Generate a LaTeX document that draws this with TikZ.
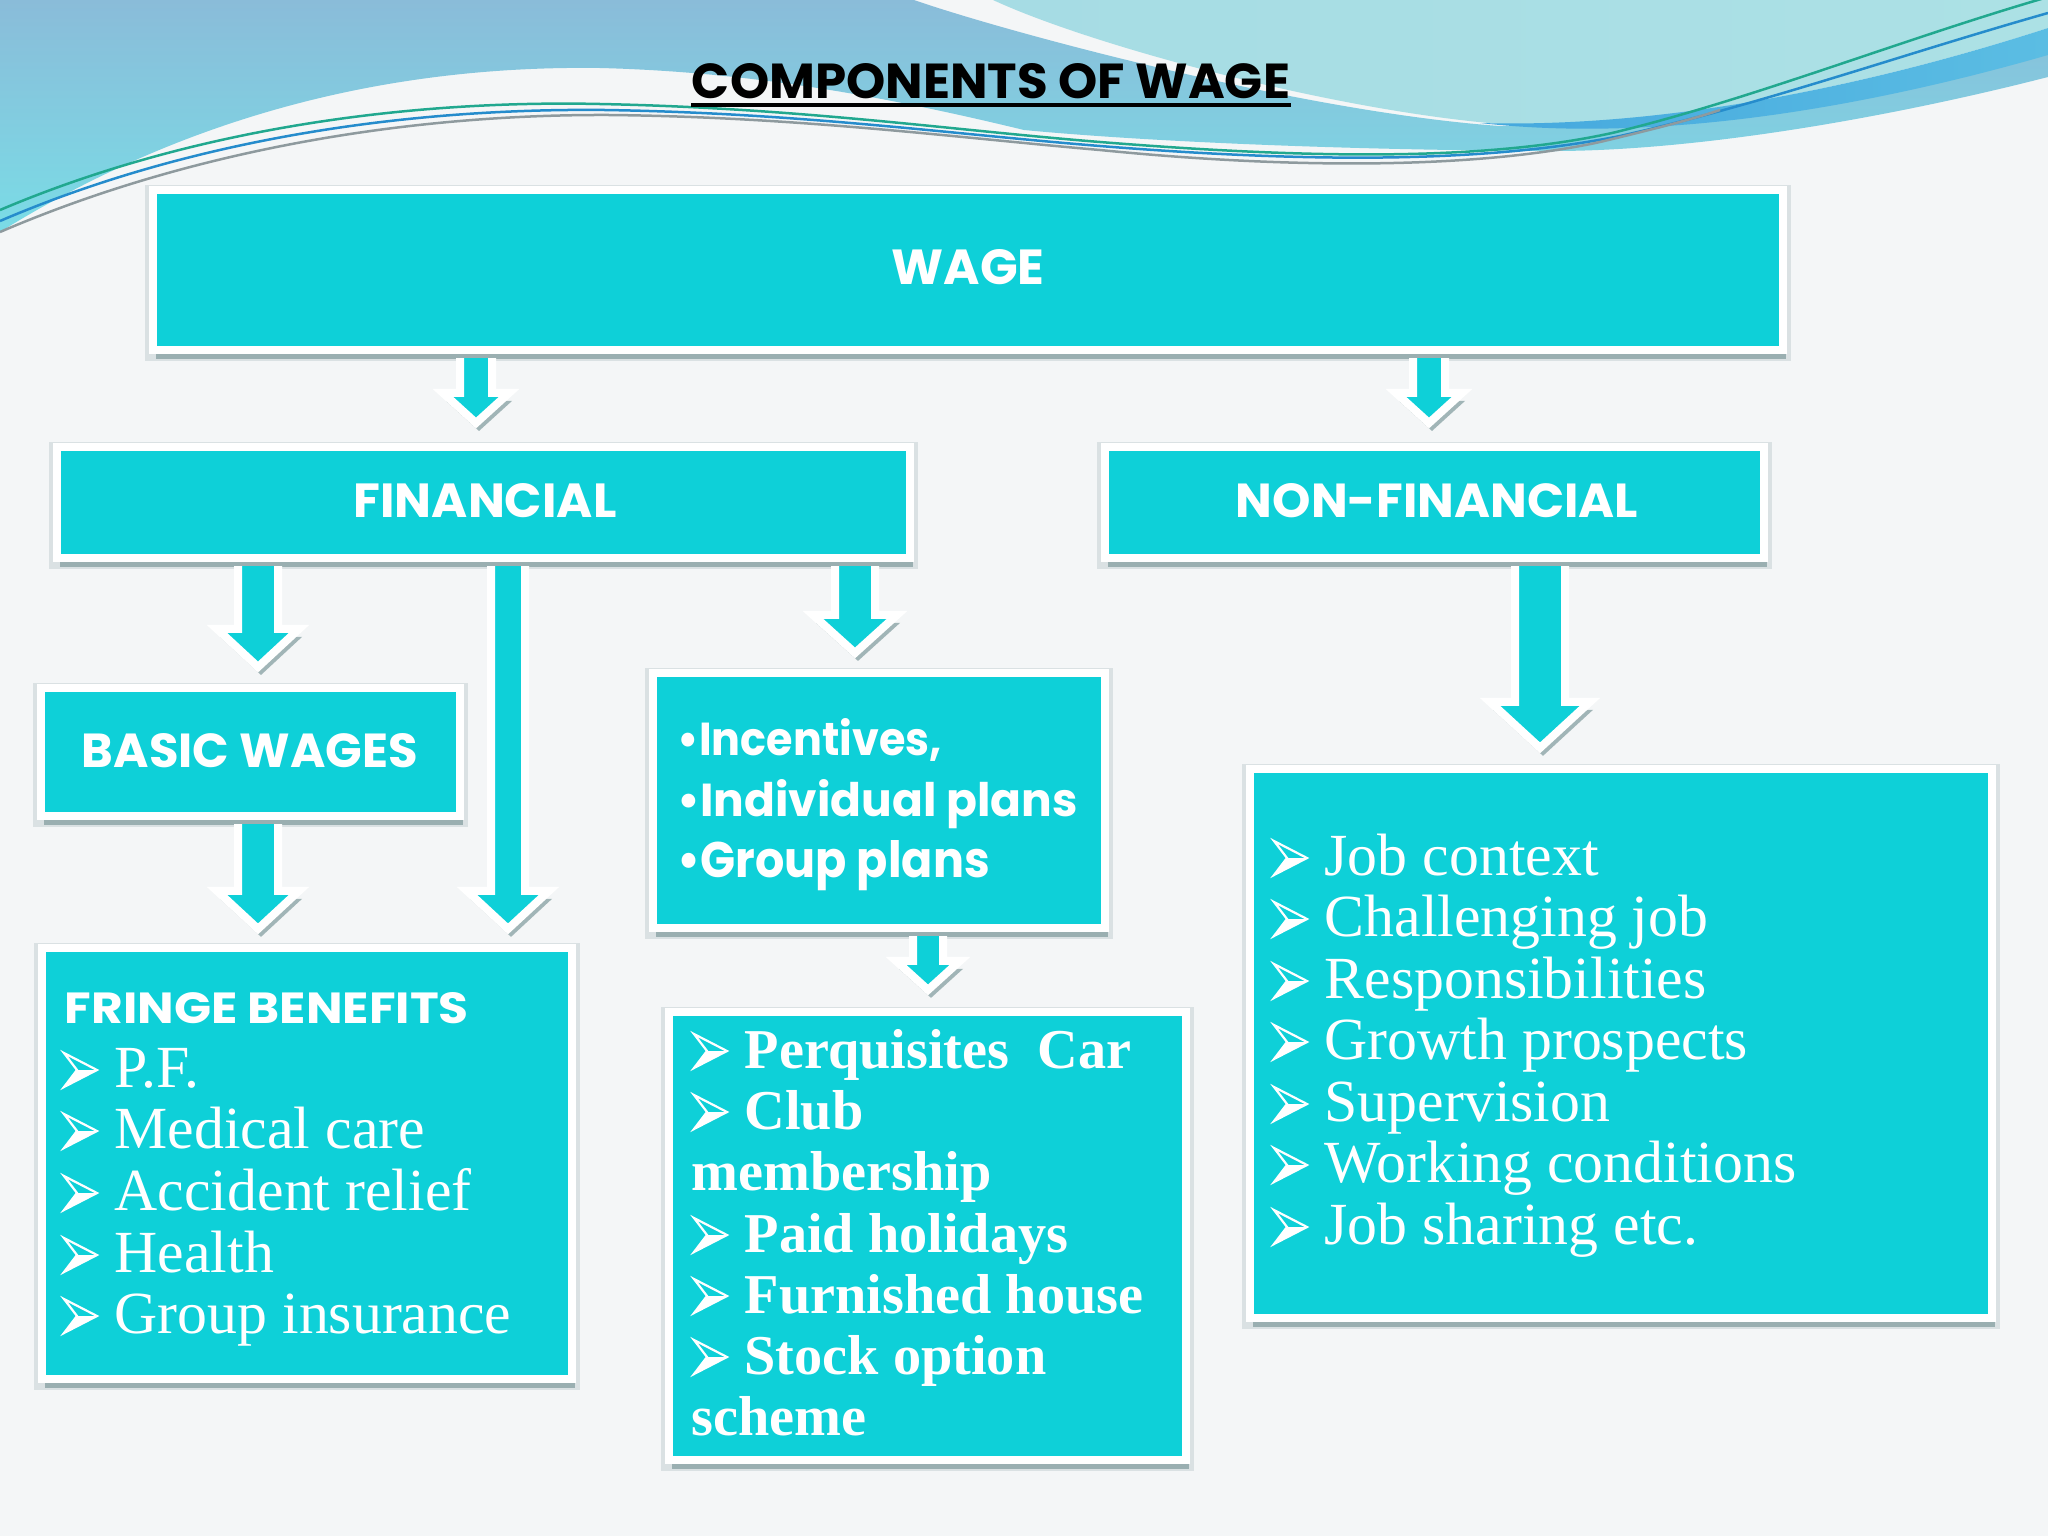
\documentclass[tikz,border=0pt]{standalone}
\usepackage{fontspec}
\usepackage{graphicx}
\setmainfont{Liberation Serif}
\newfontfamily\hd{Poppins}
\usetikzlibrary{calc,shadows}
\newlength\pxu \setlength\pxu{0.01cm}
\definecolor{cy}{HTML}{0ED0D8}
\definecolor{bg}{HTML}{F4F6F7}
\definecolor{shc}{HTML}{7F9A9D}
\definecolor{wA1}{HTML}{8ABCD9}
\definecolor{wA2}{HTML}{7ADCE6}
\definecolor{wB1}{HTML}{A6DCE4}
\definecolor{wB2}{HTML}{ACE1E5}
\definecolor{rib1}{HTML}{45A8DE}
\definecolor{rib2}{HTML}{5BBDE3}
\definecolor{lgreen}{HTML}{21A88F}
\definecolor{lblue}{HTML}{2E6FBF}
\definecolor{lgrey}{HTML}{8E9A9E}
\newcommand\fitbox[3]{\resizebox{#1\pxu}{#2\pxu}{#3}}
\newcommand\li[5][lt]{\pic at (#3,#4) {arrbul}; \node[#1] (#2) at ({#3+50},#4) {#5};}
% block arrow: #1 src, #2 tgt, #3 aux x coordinate, #4 shaft half width, #5 head half width, #6 head length, #7 gap
\newcommand\barrow[7]{%
\draw[barw] ($(#3|-#1.south)+(-#4,4)$) -- ($(#3|-#2.north)+(-#4,-#7-#6)$) -- ($(#3|-#2.north)+(-#5,-#7-#6)$) -- ($(#3|-#2.north)+(0,-#7)$) -- ($(#3|-#2.north)+(#5,-#7-#6)$) -- ($(#3|-#2.north)+(#4,-#7-#6)$) -- ($(#3|-#1.south)+(#4,4)$);}
\tikzset{
 box/.style={fill=cy, draw=white, line width=0.08cm, inner sep=0,
   preaction={draw=shc, line width=0.15cm, opacity=0.22, transform canvas={yshift=-0.03cm}},
   drop shadow={shadow xshift=0.03cm, shadow yshift=-0.09cm, fill=shc, opacity=0.7}},
 barw/.style={fill=cy, draw=white, line width=0.08cm, line join=miter,
   drop shadow={shadow xshift=0.03cm, shadow yshift=-0.08cm, fill=shc, opacity=0.7}},
 hdt/.style={text=white, inner sep=0, font=\hd\bfseries},
 lt/.style={text=white, inner sep=0, anchor=base west, font=\fontsize{17pt}{17pt}\selectfont},
 lb/.style={text=white, inner sep=0, anchor=base west, font=\fontsize{16pt}{16pt}\selectfont\bfseries},
 lr/.style={text=white, inner sep=0, anchor=base west, font=\fontsize{17pt}{17pt}\selectfont},
 wline/.style={line width=0.025cm},
 arrbul/.pic={
   \fill[white] (13,-17) -- (33,-17) -- (0,0) -- cycle;
   \draw[white, line width=0.022cm, line join=miter] (0,-34) -- (33,-17) -- (0,0) -- (13,-17) -- cycle;
 }
}
\begin{document}
\begin{tikzpicture}[x=0.01cm,y=-0.01cm]
\useasboundingbox (0,0) rectangle (2048,1536);
\fill[bg] (0,0) rectangle (2048,1536);
% ---- top waves ----
\shade[top color=wA1, bottom color=wA2] (0,0) -- (914,0)
  .. controls (1000,30) and (1300,112) .. (1500,126)
  .. controls (1700,130) and (1900,85) .. (2048,50) -- (2048,77)
  .. controls (1900,115) and (1700,152) .. (1546,151)
  .. controls (1350,150) and (1150,142) .. (1024,130)
  .. controls (900,100) and (760,72) .. (600,68)
  .. controls (380,65) and (180,120) .. (0,232) -- cycle;
\shade[left color=wB1, right color=wB2] (993,0) -- (2048,0) -- (2048,28)
  .. controls (1850,92) and (1650,127) .. (1500,124)
  .. controls (1330,110) and (1090,45) .. (993,0) -- cycle;
\shade[left color=rib1, right color=rib2] (1480,123)
  .. controls (1650,128) and (1850,92) .. (2048,28) -- (2048,55)
  .. controls (1850,112) and (1650,142) .. (1480,123) -- cycle;
\draw[wline, lgreen] (0,210) .. controls (200,125) and (420,100) .. (600,104)
  .. controls (800,108) and (950,130) .. (1100,142)
  .. controls (1300,158) and (1480,162) .. (1612,133)
  .. controls (1750,100) and (1900,40) .. (2048,-3);
\draw[wline, lblue!80!cyan] (0,221) .. controls (200,135) and (420,108) .. (605,110)
  .. controls (800,113) and (950,134) .. (1100,146)
  .. controls (1300,162) and (1480,164) .. (1620,136)
  .. controls (1760,105) and (1900,55) .. (2048,13);
\draw[wline, lgrey] (0,232) .. controls (200,146) and (420,114) .. (610,115)
  .. controls (800,117) and (960,138) .. (1100,150)
  .. controls (1300,170) and (1480,168) .. (1600,142)
  .. controls (1650,130) and (1690,120) .. (1720,110);
% ---- title ----
\node[font=\hd\bfseries, inner sep=0, anchor=base] (title) at (991,98) {\fitbox{598}{35}{COMPONENTS OF WAGE}};
\draw[line width=0.035cm] ([yshift=-0.07cm]title.base west) -- ([yshift=-0.07cm]title.base east);
% ---- boxes ----
\node[box, minimum width=16.30cm, minimum height=1.60cm] (wage) at (968,270) {};
\node[box, minimum width=8.53cm, minimum height=1.11cm] (fin) at (483.5,502.5) {};
\node[box, minimum width=6.59cm, minimum height=1.11cm] (nonfin) at (1434.5,502.5) {};
\node[box, minimum width=4.19cm, minimum height=1.28cm] (basic) at (250.5,752) {};
\node[box, minimum width=4.52cm, minimum height=2.55cm] (inc) at (879,800.5) {};
\node[box, minimum width=5.30cm, minimum height=4.31cm] (fringe) at (307,1163.5) {};
\node[box, minimum width=5.17cm, minimum height=4.48cm] (perq) at (927.5,1236) {};
\node[box, minimum width=7.42cm, minimum height=5.49cm] (list) at (1621,1043.5) {};
% ---- arrows ----
\coordinate (ax1) at (476,0);
\coordinate (ax2) at (1429,0);
\coordinate (ax3) at (258,0);
\coordinate (ax4) at (508,0);
\coordinate (ax5) at (855,0);
\coordinate (ax7) at (928,0);
\coordinate (ax8) at (1540,0);
\barrow{wage}{fin}{ax1}{16}{33}{30}{20}
\barrow{wage}{nonfin}{ax2}{16}{33}{30}{20}
\barrow{fin}{basic}{ax3}{20}{41}{38}{17}
\barrow{fin}{fringe}{ax4}{17}{41}{38}{15}
\barrow{fin}{inc}{ax5}{20}{42}{38}{16}
\barrow{basic}{fringe}{ax3}{20}{41}{38}{15}
\barrow{inc}{perq}{ax7}{15}{32}{29}{18}
\barrow{nonfin}{list}{ax8}{25}{50}{46}{17}
% ---- texts ----
\node[hdt, anchor=base] (twage) at (968,284) {\fitbox{153}{35}{WAGE}};
\node[hdt, anchor=base] (tfin) at (485,517) {\fitbox{263}{34}{FINANCIAL}};
\node[hdt, anchor=base] (tnon) at (1437,517) {\fitbox{402}{34}{NON-FINANCIAL}};
\node[hdt, anchor=base] (tbas) at (250,767) {\fitbox{336}{34}{BASIC WAGES}};
\node[hdt, anchor=base west] (tfr) at (64,1023) {\fitbox{404}{31}{FRINGE BENEFITS}};
\node[hdt, anchor=base west] (ti1) at (677,755) {\fitbox{264}{37}{•Incentives,}};
\node[hdt, anchor=base west] (ti2) at (677,816) {\fitbox{400}{37}{•Individual plans}};
\node[hdt, anchor=base west] (ti3) at (677,877) {\fitbox{312}{37}{•Group plans}};
\li{fb1}{64}{1087}{P.F.}
\li{fb2}{64}{1148}{Medical care}
\li{fb3}{64}{1210}{Accident relief}
\li{fb4}{64}{1272}{Health}
\li{fb5}{64}{1333}{Group insurance}
\li[lb]{pq1}{694}{1068}{Perquisites\ \ Car}
\li[lb]{pq2}{694}{1129}{Club}
\node[lb] (pq3) at (691,1190) {membership};
\li[lb]{pq4}{694}{1252}{Paid holidays}
\li[lb]{pq5}{694}{1313}{Furnished house}
\li[lb]{pq6}{694}{1374}{Stock option}
\node[lb] (pq7) at (691,1435) {scheme};
\li[lr]{nf1}{1274}{875}{Job context}
\li[lr]{nf2}{1274}{936}{Challenging job}
\li[lr]{nf3}{1274}{998}{Responsibilities}
\li[lr]{nf4}{1274}{1059}{Growth prospects}
\li[lr]{nf5}{1274}{1121}{Supervision}
\li[lr]{nf6}{1274}{1182}{Working conditions}
\li[lr]{nf7}{1274}{1244}{Job sharing etc.}
\end{tikzpicture}
\end{document}
